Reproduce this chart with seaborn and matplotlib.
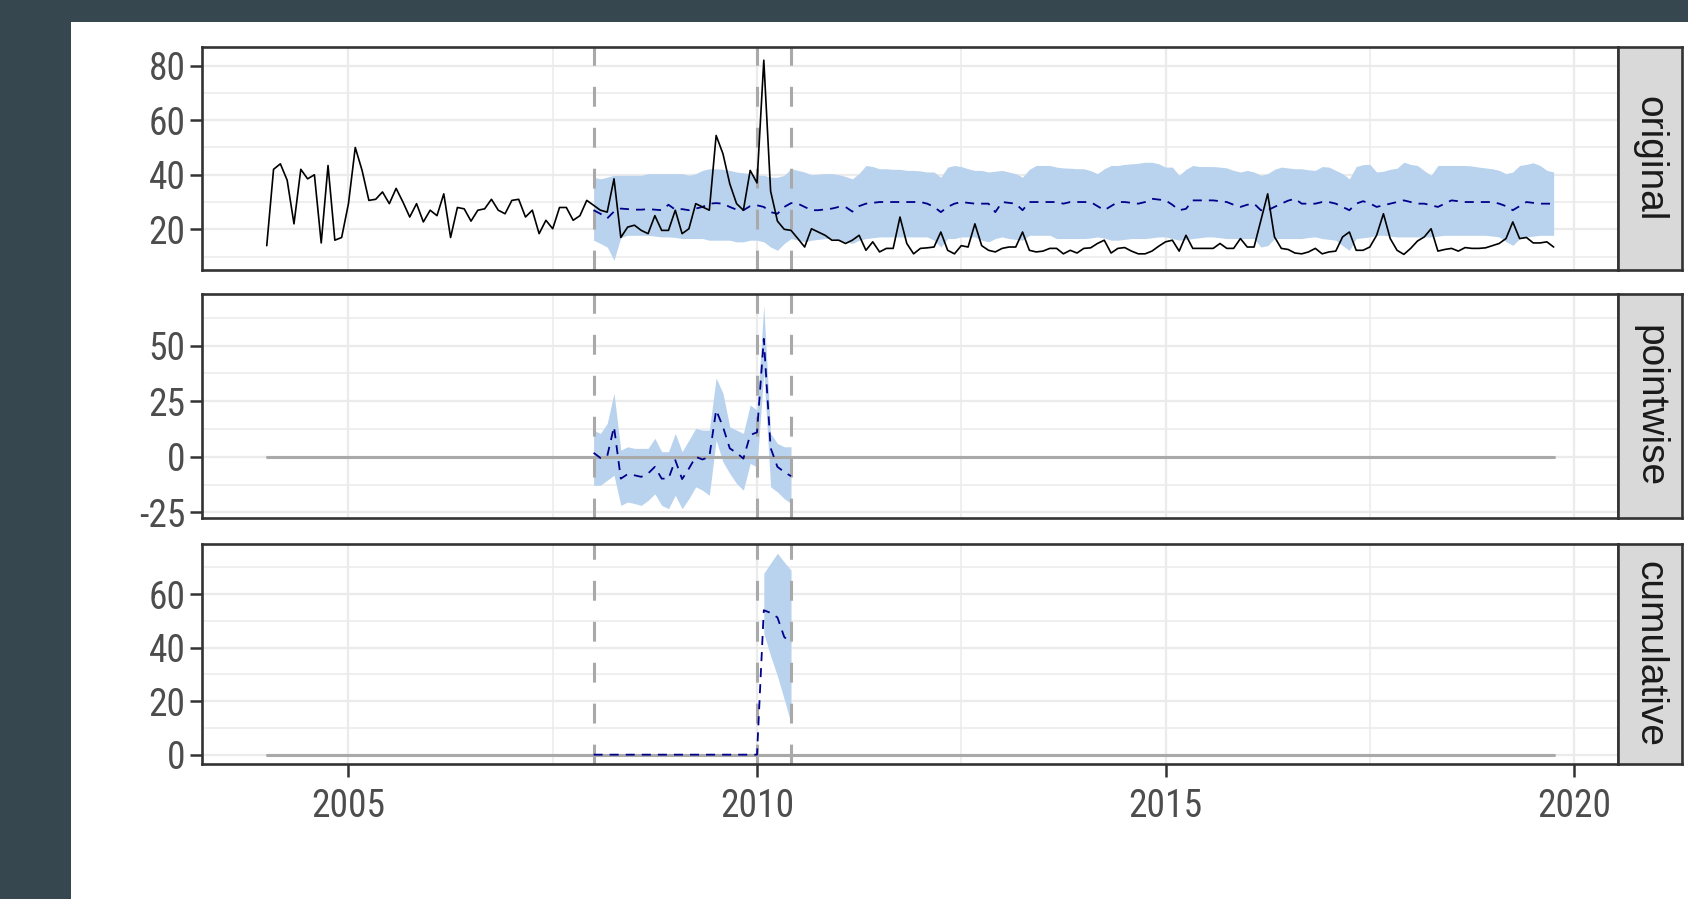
import numpy as np
import pandas as pd
import matplotlib
matplotlib.use("Agg")
import matplotlib.pyplot as plt
from matplotlib.patches import Rectangle
from matplotlib import font_manager
import seaborn as sns

# ---------------- data ----------------
START_YEAR = 2004
OBSERVED = [
    14, 42, 44, 38, 22, 42, 38.5, 40, 15, 43.4,
    16, 17, 29.4, 50, 41.6, 30.6, 31, 33.7, 29.4, 35,
    30, 24.5, 29.4, 22.7, 27, 25, 33, 17, 28, 27.5,
    23, 27, 27.5, 31, 27, 25.7, 30.6, 31, 24.5, 27,
    18.4, 23.3, 20.2, 28, 28, 23.3, 25, 30.6, 28.8, 27,
    26.3, 38.5, 17, 20.8, 21.5, 19.6, 18.4, 25, 19.6, 19.6,
    27, 18.4, 20.2, 29.4, 28.2, 27, 54.4, 47.7, 36.7, 29.4,
    27, 41.6, 37, 82, 34, 23, 20, 19.6, 16.6, 13.5,
    20.2, 19, 17.8, 16, 16, 14.8, 16, 17.8, 12.3, 15.4,
    11.7, 13, 13, 24.5, 14.8, 11, 13, 13.2, 13.5, 19,
    12.3, 11, 14, 13.5, 22, 14, 12.3, 11.7, 13, 13.5,
    13.5, 19, 12.3, 11.7, 12, 13, 13, 11, 12.3, 11.3,
    13, 13.2, 14.8, 16, 11.3, 13, 13.3, 12, 11, 11,
    12, 13.8, 15.4, 16, 12, 17.8, 13, 13, 13, 13,
    14.8, 13, 13, 16.6, 13.5, 13.5, 23.3, 33, 17.2, 13,
    12.6, 11.3, 11, 11.7, 13, 11, 11.7, 12, 17.2, 19,
    12.3, 12.3, 13.5, 17.8, 25.7, 16.6, 12.3, 10.8, 13, 15.7,
    17.2, 20.2, 12, 12.6, 13, 12, 13.3, 13, 13, 13.2,
    14, 14.8, 16.6, 22.7, 16.6, 17, 15, 15, 15.4, 13.5,
]
FIT_START = 48  # month index where the model band starts (Jan 2008)
PRED_MEAN = [
    27, 25.7, 24, 26.5, 27.6, 27.4, 27.2, 27.2, 27.4, 27.2,
    27.0, 29.0, 27.2, 27.4, 27.0, 27.6, 28.2, 29.4, 29.6, 29.4,
    28.2, 27.2, 27.0, 28.5, 28.8, 28.2, 26.3, 25.7, 28.2, 29.6,
    29.4, 28.2, 27.0, 27.0, 27.3, 27.6, 28.2, 28.2, 26.5, 28.5,
    29.4, 29.7, 30.0, 30.0, 30.0, 30.0, 30.0, 30.0, 30.0, 29.4,
    28.2, 26.3, 28.2, 29.4, 30.0, 29.7, 29.4, 29.4, 29.4, 26.3,
    30.0, 29.7, 29.4, 27.0, 30.0, 30.0, 30.0, 30.0, 30.0, 29.4,
    30.0, 30.0, 30.0, 30.0, 28.5, 27.0, 28.5, 30.0, 30.0, 29.7,
    29.4, 30.0, 31.2, 30.9, 30.6, 29.0, 27.0, 27.5, 30.6, 30.6,
    30.6, 30.6, 30.3, 30.0, 29.0, 28.2, 29.0, 29.4, 27.0, 27.0,
    28.2, 29.4, 30.5, 31.2, 29.4, 29.4, 29.4, 30.0, 30.0, 29.4,
    28.2, 27.0, 29.4, 30.3, 29.5, 28.2, 28.8, 29.4, 30.0, 30.6,
    30.0, 29.4, 29.4, 28.8, 28.2, 29.4, 30.6, 30.3, 30.0, 30.0,
    30.0, 30.0, 30.0, 29.4, 28.5, 27.0, 28.5, 30.0, 29.7, 29.4,
    29.4, 29.4,
]
PRED_UPPER = [
    39.1, 38.5, 39.1, 39.8, 39.8, 39.8, 39.8, 39.8, 40.4, 40.4,
    40.4, 40.4, 40.4, 40.4, 39.8, 40.4, 41.6, 42.2, 42.2, 42.0,
    41.6, 41.0, 40.7, 40.4, 39.8, 39.8, 39.1, 39.1, 39.8,
    42.2, 41.6, 41.0, 40.0, 40.2, 40.4, 40.4, 40.0, 39.4, 38.5, 40.5,
    43.4, 43.0, 42.2, 42.2, 42.0, 42.0, 41.6, 41.6, 41.4, 41.0,
    41.0, 39.1, 42.8, 43.4, 43.0, 42.2, 41.6, 41.6, 41.0, 41.3,
    41.6, 41.0, 40.4, 39.1, 42.0, 43.4, 43.4, 43.4,
    42.8, 42.5, 42.4, 42.2, 42.2, 41.5, 40.4, 42.2, 43.4, 43.4,
    43.8, 44.0, 44.2, 44.6, 44.6, 44.0, 42.8, 42.8, 39.8, 42.0,
    43.4, 43.0, 43.0, 43.0, 42.8, 42.5, 41.6, 41.0, 41.6, 41.0,
    39.8, 40.4, 42.0, 42.8, 42.5, 42.2, 42.2, 41.8, 41.6,
    43.0, 42.8, 41.6, 40.4, 38.5, 43.0, 43.7, 43.8, 41.0, 41.3,
    42.0, 42.4, 44.6, 43.8, 43.4, 41.5, 39.8, 43.4, 43.4, 43.4,
    43.4, 43.4, 43.2, 42.8, 42.5, 42.2, 41.6, 40.4, 41.0, 43.4,
    43.8, 44.4, 43.4, 41.6, 41.0,
]
PRED_LOWER = [
    16.0, 14.8, 13.5, 8.7, 17.0, 17.8, 17.8, 17.8, 17.8, 17.5,
    17.2, 17.2, 17.0, 16.6, 16.6, 16.6, 16.6, 16.0, 16.0, 16.0,
    16.0, 15.4, 15.4, 16.0, 16.0, 15.4, 13.5, 12.3, 14.8,
    16.6, 16.0, 15.4, 16.0, 16.3, 16.6, 16.6, 16.0, 15.4, 14.8, 16.0,
    16.6, 16.9, 17.2, 17.2, 17.2, 17.2, 17.2, 17.2, 17.2, 17.2,
    16.0, 13.5, 16.6, 16.6, 17.2, 17.2, 17.2, 16.0, 15.4, 16.6,
    17.2, 16.6, 16.3, 16.0, 17.8, 17.8, 17.8, 17.8,
    16.6, 16.6, 16.6, 16.6, 16.6, 16.8, 17.2, 16.8, 16.0, 16.0,
    16.3, 16.6, 16.6, 16.6, 16.9, 17.2, 17.2, 16.6, 16.0, 16.3,
    16.6, 16.9, 17.2, 17.2, 16.9, 16.6, 16.6, 16.6, 16.6, 16.6,
    13.5, 14.0, 16.6, 16.6, 16.6, 16.6, 16.6, 17.0, 17.2,
    16.6, 16.3, 16.0, 14.0, 12.3, 16.6, 16.9, 17.2, 17.8, 17.8,
    17.5, 17.2, 17.2, 17.2, 17.2, 17.2, 17.2, 17.5, 17.8, 17.8,
    17.8, 17.8, 17.8, 17.8, 17.8, 17.5, 17.2, 15.5, 14.1, 16.5,
    17.2, 17.5, 17.8, 17.8, 17.8,
]
POINT_MEAN = [1.8, -0.5, 0.3, 13.5, -9.8, -7.8, -8.3, -9.0, -7.5, -4.5,
              -9.8, -9.8, -1.5, -10.0, -5.3, 0.0, -1.2, 0.0, 21.0, 13.5,
              3.8, 1.8, -0.8, 9.8, 11.0, 53.0, 4.0, -4.5, -6.8, -8.7]
POINT_UPPER = [12, 10.5, 15, 28.6, 3, 4.5, 3.8, 3.8, 3.8, 8.3,
               2.3, 2.3, 10.5, 2.3, 7.5, 12.8, 12, 12, 35.4, 28.6,
               13.5, 12, 10.5, 23.3, 21, 68, 10.5, 6, 4.5, 4.5]
POINT_LOWER = [-12.8, -12.8, -10.5, -8.3, -21.8, -20.3, -21, -21.8, -19.6, -16.6,
               -21.8, -23.3, -17.3, -23.3, -18.8, -13.5, -15, -17.3, 7.5, -2.3,
               -7.5, -12, -15, -3, -4.5, 38, -13.5, -15.8, -18.8, -21]
CUM_MEAN = [0] * 25 + [54, 53, 51.3, 44, 41.6]
CUM_BAND_START = 73
CUM_UPPER = [67.8, 71.6, 75.3, 72, 69]
CUM_LOWER = [45.4, 36.9, 29.4, 20.7, 11.7]

PANELS = ["original", "pointwise", "cumulative"]
X_TICKS = [2005, 2010, 2015, 2020]
Y_TICKS = [[20, 40, 60, 80], [-25, 0, 25, 50], [0, 20, 40, 60]]
Y_MINOR = [[10, 30, 50, 70], [-12.5, 12.5, 37.5, 62.5], [10, 30, 50, 70]]
Y_LIMS = [(5.0, 86.7), (-27.4, 73.2), (-3.6, 78.9)]
VLINES = [2008.0, 2010.0, 2010 + 5 / 12]

# ---------------- style ----------------
sns.set_theme(style="white")
plt.rcParams["font.family"] = ["Liberation Sans", "DejaVu Sans"]
plt.rcParams["axes.unicode_minus"] = False


def pick_tick_font():
    """Prefer a narrow/condensed sans face (like Arial Narrow) if one is installed."""
    entries = font_manager.fontManager.ttflist
    prefs = ["Liberation Sans Narrow", "Arial Narrow", "Roboto Condensed",
             "Open Sans Condensed", "Noto Sans Condensed", "DejaVu Sans Condensed"]
    for p in prefs:
        for f in entries:
            if f.name == p and f.weight in (400, "normal", "regular") and f.style == "normal":
                return font_manager.FontProperties(fname=f.fname), p
    for f in entries:
        st = str(f.stretch)
        if (st in ("condensed", "semi-condensed", "extra-condensed") or
                "Condensed" in f.fname or "Narrow" in f.fname) and \
                f.style == "normal" and "Bold" not in f.fname and "Mono" not in f.fname \
                and "Serif" not in f.fname and "Oblique" not in f.fname:
            return font_manager.FontProperties(fname=f.fname), f.name + " cond"
    return font_manager.FontProperties(family="Liberation Sans"), "plain"


TICK_FP, TICK_KIND = pick_tick_font()
if "Narrow" in TICK_KIND:
    TICK_SIZE = 30
elif TICK_KIND == "plain":
    TICK_SIZE = 24
else:
    TICK_SIZE = 27
TICK_FP.set_size(TICK_SIZE)

BG = "#37474F"
BAND = "#B9D3EE"
MEAN = "#00008B"
GREY = "#A9A9A9"
BORDER = "#333333"
GRID = "#EBEBEB"
TICK_COL = "#4D4D4D"

W, H = 1688, 899
fig = plt.figure(figsize=(W / 100, H / 100), dpi=100, facecolor=BG)
fig.patches.append(Rectangle((71 / W, 0), 1 - 71 / W, 1 - 22 / H,
                             transform=fig.transFigure, facecolor="white",
                             edgecolor="none", zorder=-5))

t_all = START_YEAR + np.arange(len(OBSERVED)) / 12.0
t_fit = t_all[FIT_START:]
t_pt = t_all[FIT_START:FIT_START + len(POINT_MEAN)]
t_cb = t_all[CUM_BAND_START:CUM_BAND_START + len(CUM_UPPER)]
span = t_all[-1] - t_all[0]
xlim = (t_all[0] - 0.05 * span, t_all[-1] + 0.05 * span)

left, right = 202.4 / W, 1618 / W
strip_w = 63.5 / W
panel_px = [(47.4, 270.2), (293.9, 517.8), (543.6, 764.3)]

MEAN_DASH = (0, (5, 3.9))
VL_DASH = (0, (6.5, 6.9))

axes = []
for i, (top, bot) in enumerate(panel_px):
    ax = fig.add_axes([left, 1 - bot / H, right - left, (bot - top) / H])
    ax.set_facecolor("white")
    axes.append(ax)

    sax = fig.add_axes([right, 1 - bot / H, strip_w, (bot - top) / H])
    sax.set_facecolor("#D9D9D9")
    sax.set_xticks([])
    sax.set_yticks([])
    for s in sax.spines.values():
        s.set_color(BORDER)
        s.set_linewidth(1.9)
    sax.text(0.5, 0.5, PANELS[i], rotation=270, ha="center", va="center",
             fontsize=28, color="#1A1A1A", transform=sax.transAxes,
             family=["Liberation Sans", "DejaVu Sans"])

# panel 1: original
ax = axes[0]
ax.fill_between(t_fit, PRED_LOWER, PRED_UPPER, color=BAND, lw=0, zorder=1)
for v in VLINES:
    ax.axvline(v, color=GREY, lw=2.2, linestyle=VL_DASH, zorder=2)
sns.lineplot(x=t_fit, y=PRED_MEAN, ax=ax, color=MEAN, lw=1.3, linestyle=MEAN_DASH,
             estimator=None, zorder=3)
sns.lineplot(x=t_all, y=OBSERVED, ax=ax, color="black", lw=1.2, estimator=None, zorder=4)

# panel 2: pointwise
ax = axes[1]
ax.fill_between(t_pt, POINT_LOWER, POINT_UPPER, color=BAND, lw=0, zorder=1)
for v in VLINES:
    ax.axvline(v, color=GREY, lw=2.2, linestyle=VL_DASH, zorder=2)
sns.lineplot(x=[t_all[0], t_all[-1]], y=[0, 0], ax=ax, color=GREY, lw=2.2,
             estimator=None, zorder=2.5)
sns.lineplot(x=t_pt, y=POINT_MEAN, ax=ax, color=MEAN, lw=1.3, linestyle=MEAN_DASH,
             estimator=None, zorder=3)

# panel 3: cumulative
ax = axes[2]
ax.fill_between(t_cb, CUM_LOWER, CUM_UPPER, color=BAND, lw=0, zorder=1)
for v in VLINES:
    ax.axvline(v, color=GREY, lw=2.2, linestyle=VL_DASH, zorder=2)
sns.lineplot(x=[t_all[0], t_all[-1]], y=[0, 0], ax=ax, color=GREY, lw=2.2,
             estimator=None, zorder=2.5)
sns.lineplot(x=t_pt, y=CUM_MEAN, ax=ax, color=MEAN, lw=1.3, linestyle=MEAN_DASH,
             estimator=None, zorder=3)

for i, ax in enumerate(axes):
    if ax.get_legend():
        ax.get_legend().remove()
    ax.set_xlim(*xlim)
    ax.set_ylim(*Y_LIMS[i])
    ax.set_xlabel("")
    ax.set_ylabel("")
    ax.set_xticks(X_TICKS)
    ax.set_xticks([2007.5, 2012.5, 2017.5], minor=True)
    ax.set_yticks(Y_TICKS[i])
    ax.set_yticks(Y_MINOR[i], minor=True)
    ax.set_yticklabels([str(v) for v in Y_TICKS[i]], fontproperties=TICK_FP, color=TICK_COL)
    if i == 2:
        ax.set_xticklabels([str(v) for v in X_TICKS], fontproperties=TICK_FP, color=TICK_COL)
    ax.grid(True, which="major", color=GRID, lw=1.6, zorder=0)
    ax.grid(True, which="minor", color=GRID, lw=1.1, zorder=0)
    ax.set_axisbelow(True)
    for s in ax.spines.values():
        s.set_color(BORDER)
        s.set_linewidth(1.9)
        s.set_zorder(10)
    ax.tick_params(axis="y", which="major", length=9, width=1.8, color=BORDER,
                   pad=3, left=True)
    ax.tick_params(axis="x", which="major", length=9, width=1.8, color=BORDER,
                   pad=8, bottom=(i == 2), labelbottom=(i == 2))
    ax.tick_params(which="minor", length=0)

fig.savefig("out.png", dpi=100, facecolor=BG)
